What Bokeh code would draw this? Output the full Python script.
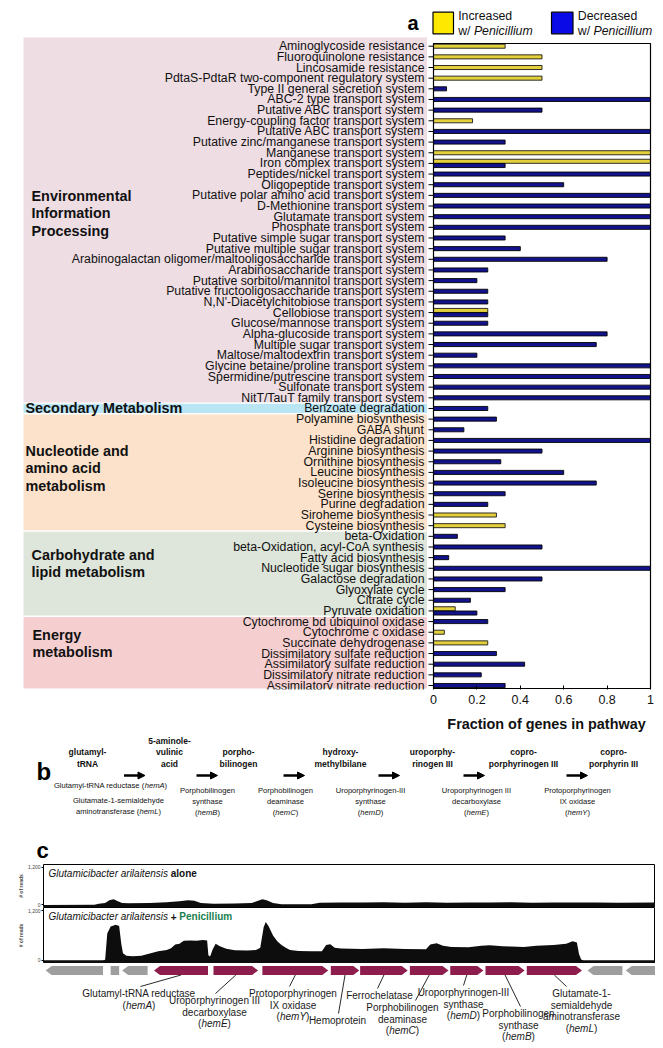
from bokeh.plotting import figure
from bokeh.layouts import column, row
from bokeh.models import (Range1d, FixedTicker, NumeralTickFormatter, ColumnDataSource,
                          Arrow, NormalHead)
from bokeh.core.properties import value
from bokeh.embed import file_html
from bokeh.resources import INLINE

FONT = "Liberation Sans"

# ---------------- panel a data ----------------
pathways = [
    "Aminoglycoside resistance", "Fluoroquinolone resistance", "Lincosamide resistance",
    "PdtaS-PdtaR two-component regulatory system", "Type II general secretion system",
    "ABC-2 type transport system", "Putative ABC transport system",
    "Energy-coupling factor transport system", "Putative ABC transport system",
    "Putative zinc/manganese transport system", "Manganese transport system",
    "Iron complex transport system", "Peptides/nickel transport system",
    "Oligopeptide transport system", "Putative polar amino acid transport system",
    "D-Methionine transport system", "Glutamate transport system", "Phosphate transport system",
    "Putative simple sugar transport system", "Putative multiple sugar transport system",
    "Arabinogalactan oligomer/maltooligosaccharide transport system",
    "Arabinosaccharide transport system", "Putative sorbitol/mannitol transport system",
    "Putative fructooligosaccharide transport system", "N,N'-Diacetylchitobiose transport system",
    "Cellobiose transport system", "Glucose/mannose transport system",
    "Alpha-glucoside transport system", "Multiple sugar transport system",
    "Maltose/maltodextrin transport system", "Glycine betaine/proline transport system",
    "Spermidine/putrescine transport system", "Sulfonate transport system",
    "NitT/TauT family transport system",
    "Benzoate degradation",
    "Polyamine biosynthesis", "GABA shunt", "Histidine degradation", "Arginine biosynthesis",
    "Ornithine biosynthesis", "Leucine biosynthesis", "Isoleucine biosynthesis",
    "Serine biosynthesis", "Purine degradation", "Siroheme biosynthesis", "Cysteine biosynthesis",
    "beta-Oxidation", "beta-Oxidation, acyl-CoA synthesis", "Fatty acid biosynthesis",
    "Nucleotide sugar biosynthesis", "Galactose degradation", "Glyoxylate cycle", "Citrate cycle",
    "Pyruvate oxidation",
    "Cytochrome bd ubiquinol oxidase", "Cytochrome c oxidase", "Succinate dehydrogenase",
    "Dissimilatory sulfate reduction", "Assimilatory sulfate reduction",
    "Dissimilatory nitrate reduction", "Assimilatory nitrate reduction",
]
increased = [0.33, 0.5, 0.5, 0.5, 0, 0, 0, 0.18, 0, 0,
             1.0, 1.0, 0, 0, 0, 0, 0, 0, 0, 0,
             0, 0, 0, 0, 0, 0.25, 0, 0, 0, 0,
             0, 0, 0, 0,
             0,
             0, 0, 0, 0, 0, 0, 0, 0, 0, 0.29, 0.33,
             0, 0, 0, 0, 0, 0, 0, 0.10,
             0, 0.05, 0.25, 0, 0, 0, 0]
decreased = [0, 0, 0, 0, 0.06, 1.0, 0.5, 0, 1.0, 0.33,
             0, 0.33, 1.0, 0.6, 1.0, 1.0, 1.0, 1.0, 0.33, 0.4,
             0.8, 0.25, 0.2, 0.25, 0.25, 0.25, 0.25, 0.8, 0.75, 0.2,
             1.0, 1.0, 1.0, 1.0,
             0.25,
             0.29, 0.14, 1.0, 0.5, 0.31, 0.6, 0.75, 0.33, 0.25, 0, 0,
             0.11, 0.5, 0.07, 1.0, 0.5, 0.33, 0.17, 0.2,
             0.25, 0, 0, 0.29, 0.42, 0.22, 0.33]
group_names = ["Environmental|Information|Processing", "Secondary Metabolism",
               "Nucleotide and|amino acid|metabolism", "Carbohydrate and|lipid metabolism",
               "Energy|metabolism"]
group_sizes = [34, 1, 11, 8, 7]
group_colors = ["#EEDDE3", "#B9E5F5", "#FCE2CB", "#DEE5DA", "#F5CFCF"]
x_ticks = [0, 0.2, 0.4, 0.6, 0.8, 1.0]
legend_labels = ["Increased", "Decreased"]

# ---------------- panel b data ----------------
compounds = ["glutamyl-|tRNA", "5-aminole-|vulinic|acid", "porpho-|bilinogen",
             "hydroxy-|methylbilane", "uroporphy-|rinogen III", "copro-|porphyrinogen III",
             "copro-|porphyrin III"]
enzymes = ["Glutamyl-tRNA reductase (*hemA*)", "Glutamate-1-semialdehyde|aminotransferase (*hemL*)",
           "Porphobilinogen|synthase|(*hemB*)", "Porphobilinogen|deaminase|(*hemC*)",
           "Uroporphyrinogen-III|synthase|(*hemD*)", "Uroporphyrinogen III|decarboxylase|(*hemE*)",
           "Protoporphyrinogen|IX oxidase|(*hemY*)"]

# ---------------- panel c data ----------------
GEN_LEN = 14400
cov_pos_alone = [0, 1200, 1300, 1450, 1550, 1650, 1750, 1850, 2000, 2500, 2900, 3200, 3400, 3550,
                 3700, 4000, 4500, 4900, 5000, 5150, 5250, 5400, 5600, 6000, 6300, 6500, 7000,
                 7500, 8000, 8500, 9000, 9500, 10000, 10500, 11000, 11500, 12000, 12500, 13000,
                 13500, 14400]
cov_alone = [0, 10, 40, 60, 150, 180, 120, 60, 55, 60, 85, 120, 150, 130,
             60, 40, 45, 60, 110, 180, 150, 60, 25, 20, 25, 70, 80,
             75, 85, 70, 85, 70, 80, 75, 85, 70, 80, 75, 80,
             70, 75]
cov_pos_pen = [0, 1400, 1450, 1500, 1580, 1700, 1780, 1830, 1870, 1950, 2100, 2300, 2500, 2700,
               2900, 3000, 3100, 3200, 3300, 3450, 3600, 3750, 3850, 3880, 3920, 3980, 4050,
               4150, 4300, 4500, 4800, 5000, 5100, 5180, 5230, 5300, 5400, 5500, 5600, 5700,
               5800, 6000, 6300, 6550, 6650, 6750, 6850, 7000, 7500, 8000, 8500, 9000, 9100,
               9250, 9400, 9600, 10000, 10300, 10500, 10800, 11000, 11300, 11600, 12000,
               12300, 12450, 12550, 12600, 12650, 12700, 14400]
cov_pen = [0, 0, 10, 650, 820, 860, 830, 400, 170, 110, 95, 110, 160, 220,
           250, 290, 380, 400, 470, 480, 470, 490, 480, 120, 90, 260, 400,
           340, 280, 240, 235, 245, 300, 800, 930, 820, 600, 460, 370, 300,
           250, 225, 215, 220, 370, 390, 300, 285, 275, 290, 270, 265, 380,
           410, 350, 320, 315, 350, 365, 340, 330, 320, 350, 370,
           400, 460, 430, 150, 20, 0, 0]
gene_start = [50, 1580, 1850, 2600, 4000, 5150, 6760, 7450, 8620, 9570, 10400, 11370, 12800, 13700]
gene_end = [1400, 1780, 2450, 3870, 5050, 6700, 7430, 8570, 9530, 10350, 11320, 12670, 13620, 14400]
gene_strand = [-1, 0, -1, -1, 1, 1, 1, 1, 1, 1, 1, 1, -1, -1]
gene_label = ["", "", "", "Glutamyl-tRNA reductase|(*hemA*)",
              "Uroporphyrinogen III|decarboxylase|(*hemE*)",
              "Protoporphyrinogen|IX oxidase|(*hemY*)", "Hemoprotein", "Ferrochelatase",
              "Porphobilinogen|deaminase|(*hemC*)", "Uroporphyrinogen-III|synthase|(*hemD*)",
              "Porphobilinogen|synthase|(*hemB*)",
              "Glutamate-1-|semialdehyde|aminotransferase|(*hemL*)", "", ""]

# ---------------- text metrics (Arial / Liberation Sans) ----------------
REG = dict(zip(" !\"#$%&'()*+,-./", [278, 278, 355, 556, 556, 889, 667, 191, 333, 333, 389, 584, 278, 333, 278, 278]))
REG.update({d: 556 for d in "0123456789"})
REG.update({":": 278, ";": 278})
REG.update(dict(zip("ABCDEFGHIJKLMNOPQRSTUVWXYZ", [667, 667, 722, 722, 667, 611, 778, 722, 278, 500, 667, 556, 833, 722, 778, 667, 778, 722, 667, 611, 722, 667, 944, 667, 667, 611])))
REG.update(dict(zip("abcdefghijklmnopqrstuvwxyz", [556, 556, 500, 556, 556, 278, 556, 556, 222, 222, 500, 222, 833, 556, 556, 556, 556, 333, 500, 278, 556, 500, 722, 500, 500, 500])))
BOLD = dict(REG)
BOLD.update(dict(zip("ABCDEFGHIJKLMNOPQRSTUVWXYZ", [722, 722, 722, 722, 667, 611, 778, 722, 278, 556, 722, 611, 833, 722, 778, 667, 778, 722, 667, 611, 722, 667, 944, 667, 667, 611])))
BOLD.update(dict(zip("abcdefghijklmnopqrstuvwxyz", [556, 611, 556, 611, 556, 333, 611, 611, 278, 278, 556, 278, 889, 611, 611, 611, 611, 389, 556, 333, 611, 556, 778, 556, 556, 500])))


def tw(s, size, style):
    tbl = BOLD if "bold" in style else REG
    return sum(tbl.get(ch, 556) for ch in s) / 1000.0 * size


class TextLayer:
    def __init__(self):
        self.groups = {}

    def add(self, x, y, text, size, style="normal", color="black", align="left", baseline="middle"):
        key = (size, style, color, align, baseline)
        g = self.groups.setdefault(key, {"x": [], "y": [], "text": []})
        g["x"].append(x)
        g["y"].append(y)
        g["text"].append(text)

    def draw(self, fig, **kw):
        for (size, style, color, align, baseline), g in self.groups.items():
            fig.text(x="x", y="y", text="text", source=ColumnDataSource(g),
                     text_font=value(FONT), text_font_size=f"{size}px", text_font_style=style,
                     text_color=color, text_align=align, text_baseline=baseline, **kw)


def rich(layer, x, y, segs, size, align="center", conv=None):
    conv = conv or (lambda v: v)
    total = sum(tw(t, size, st) for t, st, c in segs)
    cur = {"center": x - total / 2.0, "left": x, "right": x - total}[align]
    for t, st, c in segs:
        lead = len(t) - len(t.lstrip(" "))
        core = t.strip(" ")
        if core:
            layer.add(conv(cur + tw(" " * lead, size, st)), y, core, size, st, c, "left")
        cur += tw(t, size, st)


def markup(line, base="normal", color="black"):
    return [(p, "italic" if i % 2 else base, color) for i, p in enumerate(line.split("*")) if p]


def clean(fig):
    fig.grid.visible = False
    fig.outline_line_color = None
    fig.background_fill_color = "white"
    fig.border_fill_color = "white"


# =============== panel a ===============
SLOT = 10.655
Y0 = 45.7          # page y of the first category centre
FR_TOP, FR_BOT = 0, 689


def iy(py):
    return (py - Y0) / SLOT


n = len(pathways)
yr = Range1d(start=iy(FR_BOT), end=iy(FR_TOP))
A_H = 712

left = figure(width=419, height=A_H, x_range=Range1d(8, 427), y_range=yr,
              output_backend="svg", toolbar_location=None,
              x_axis_location=None, y_axis_location=None,
              min_border_left=0, min_border_right=0, min_border_top=0, min_border_bottom=A_H - FR_BOT)
clean(left)

bl, br, bt, bb, bc = [], [], [], [], []
start = 0
gap = 0.7 / SLOT
for gi, (sz, col) in enumerate(zip(group_sizes, group_colors)):
    s, e = start, start + sz - 1
    top = iy(37) if gi == 0 else s - 0.5 + gap
    bot = iy(688) if gi == len(group_sizes) - 1 else e + 0.5 - gap
    bl.append(23); br.append(427); bt.append(top); bb.append(bot); bc.append(col)
    start += sz
left.quad(left=bl, right=br, top=bt, bottom=bb, fill_color=bc, line_color=None)

lt = TextLayer()
for i, name in enumerate(pathways):
    lt.add(424, i, name, 12.3, "normal", "#111111", "right")
group_x = [31, 25, 25, 31, 32]
group_y = [195, 407, 450, 554, 634]
for name, gx, gy in zip(group_names, group_x, group_y):
    for k, ln in enumerate(name.split("|")):
        lt.add(gx, iy(gy + k * 17.5), ln, 14.4, "bold", "#111111", "left")
lt.add(407, iy(22), "a", 20, "bold", "black", "left", "alphabetic")
lt.draw(left)

right = figure(width=228, height=A_H, x_range=Range1d(-6 / 217, 1 + 2 / 217), y_range=yr,
               output_backend="svg", toolbar_location=None, y_axis_location=None,
               min_border_left=0, min_border_right=3, min_border_top=0, min_border_bottom=A_H - FR_BOT)
clean(right)
right.extra_x_ranges = {"px": Range1d(427, 652)}
right.extra_y_ranges = {"px": Range1d(FR_BOT, FR_TOP)}

right.segment(x0=[-5 / 217] * n, x1=[0] * n, y0=list(range(n)), y1=list(range(n)),
              line_color="black", line_width=1)

both = [a > 0 and b > 0 for a, b in zip(increased, decreased)]
inc_y = [i - 0.2 if both[i] else i for i in range(n) if increased[i] > 0]
inc_v = [v for v in increased if v > 0]
dec_y = [i + 0.2 if both[i] else i for i in range(n) if decreased[i] > 0]
dec_v = [v for v in decreased if v > 0]
right.hbar(y=inc_y, left=0, right=inc_v, height=0.38, fill_color="#E3D03A",
           line_color="#1a1a1a", line_width=0.9)
right.hbar(y=dec_y, left=0, right=dec_v, height=0.38, fill_color="#12128C",
           line_color="#050505", line_width=0.9)
right.quad(left=[0], right=[1], top=[iy(43)], bottom=[iy(688)], fill_color=None,
           line_color="black", line_width=1.2)

xa = right.xaxis[0]
xa.ticker = FixedTicker(ticks=x_ticks)
xa.formatter = NumeralTickFormatter(format="0.[0]")
xa.axis_line_color = None
xa.major_tick_in = 4
xa.major_tick_out = 0
xa.major_tick_line_color = "black"
xa.minor_tick_line_color = None
xa.major_label_text_font = FONT
xa.major_label_text_font_size = "12.5px"
xa.major_label_text_color = "#111111"
xa.major_label_standoff = 5

right.quad(left=[432.5, 551], right=[453, 572.5], top=[11.7, 11.7], bottom=[33.3, 33.3],
           fill_color=["#FFE800", "#0A0AE6"], line_color="black", line_width=1.2,
           x_range_name="px", y_range_name="px")
rt = TextLayer()
for lx, lab in zip([457.7, 577.3], legend_labels):
    rt.add(lx, 15.5, lab, 12.3, "normal", "#111111", "left")
    rich(rt, lx, 30.5, [("w/ ", "normal", "#111111"), ("Penicillium", "italic", "#111111")], 12.3, "left")
rt.draw(right, x_range_name="px", y_range_name="px")

panel_a = row(left, right, spacing=0)

# =============== panel b ===============
PB_TOP, PB_BOT = 712, 864
pb = figure(width=647, height=PB_BOT - PB_TOP, x_range=Range1d(8, 655),
            y_range=Range1d(PB_BOT, PB_TOP), output_backend="svg", toolbar_location=None,
            x_axis_location=None, y_axis_location=None,
            min_border_left=0, min_border_right=0, min_border_top=0, min_border_bottom=0)
clean(pb)
bt_ = TextLayer()
bt_.add(546, 723, "Fraction of genes in pathway", 14.4, "bold", "#111111", "center")
bt_.add(36, 771, "b", 24, "bold", "black", "left", "alphabetic")
bt_.add(36, 850, "c", 22, "bold", "black", "left", "alphabetic")

compound_x = [87, 169, 238, 340, 432, 523, 613]
for cname, cx in zip(compounds, compound_x):
    lines = cname.split("|")
    for k, ln in enumerate(lines):
        bt_.add(cx, 763 - (len(lines) - 1 - k) * 11.5, ln, 8.5, "bold", "#111111", "center")

enzyme_x = [110, 118, 207, 285, 370, 476, 577]
enzyme_y = [785, 800, 790, 790, 790, 790, 790]
for ename, ex, ey in zip(enzymes, enzyme_x, enzyme_y):
    for k, ln in enumerate(ename.split("|")):
        rich(bt_, ex, ey + k * 11, markup(ln, color="#111111"), 7.6, "center")
bt_.draw(pb)

arrow_cx = [134, 206.5, 293.5, 388.5, 473.5, 576.5]
asrc = ColumnDataSource(dict(x0=[c - 10.5 for c in arrow_cx], x1=[c + 10.5 for c in arrow_cx],
                             y=[775] * len(arrow_cx)))
pb.add_layout(Arrow(end=NormalHead(size=7, fill_color="black", line_color="black"),
                    x_start="x0", y_start="y", x_end="x1", y_end="y", source=asrc,
                    line_width=2.5, line_color="black"))

# =============== panel c ===============
C_X0, C_W = 43, 612
Y_LO, Y_HI = -80, 1280


def g_of(px):
    return (px - C_X0) / C_W * GEN_LEN


def track(top, bot, pos, reads, segs):
    h = bot - top
    f = figure(width=647, height=h, x_range=Range1d(0, GEN_LEN), y_range=Range1d(Y_LO, Y_HI),
               output_backend="svg", toolbar_location=None, x_axis_location=None,
               min_border_left=35, min_border_right=0, min_border_top=0, min_border_bottom=0)
    f.grid.visible = False
    f.background_fill_color = "white"
    f.border_fill_color = "white"
    f.outline_line_color = "black"
    f.outline_line_width = 1
    f.varea(x=pos, y1=[Y_LO] * len(pos), y2=reads, fill_color="#0d0d0d")
    ax = f.yaxis[0]
    ax.ticker = FixedTicker(ticks=[0, 1200])
    ax.formatter = NumeralTickFormatter(format="0,0")
    ax.major_label_text_font = FONT
    ax.major_label_text_font_size = "5px"
    ax.major_label_standoff = 1
    ax.major_tick_out = 2
    ax.major_tick_in = 0
    ax.minor_tick_line_color = None
    ax.axis_line_color = None
    ax.axis_label = "# of reads"
    ax.axis_label_text_font = FONT
    ax.axis_label_text_font_size = "5px"
    ax.axis_label_text_font_style = "bold"
    ax.axis_label_standoff = 1
    tl = TextLayer()
    rich(tl, 48, Y_HI - 9 * (Y_HI - Y_LO) / h, segs, 10, "left", conv=g_of)
    tl.draw(f)
    return f


t1 = track(864, 907, cov_pos_alone, cov_alone,
           [("Glutamicibacter arilaitensis ", "italic", "#111111"), ("alone", "bold", "#111111")])
t2 = track(907, 963, cov_pos_pen, cov_pen,
           [("Glutamicibacter arilaitensis ", "italic", "#111111"), ("+ ", "bold", "#111111"),
            ("Penicillium", "bold", "#17804E")])

G_TOP, G_BOT = 963, 1044
gf = figure(width=647, height=G_BOT - G_TOP, x_range=Range1d(0, GEN_LEN),
            y_range=Range1d(G_BOT, G_TOP), output_backend="svg", toolbar_location=None,
            x_axis_location=None, y_axis_location=None,
            min_border_left=35, min_border_right=0, min_border_top=0, min_border_bottom=0)
clean(gf)
GY, GH, TIP = 970, 4.5, 141
xs, ys, cols = [], [], []
for s, e, st, lab in zip(gene_start, gene_end, gene_strand, gene_label):
    tip = min(TIP, (e - s) * 0.5)
    if st == 1:
        xs.append([s, e - tip, e, e - tip, s]); ys.append([GY - GH, GY - GH, GY, GY + GH, GY + GH])
    elif st == -1:
        xs.append([s, s + tip, e, e, s + tip]); ys.append([GY, GY - GH, GY - GH, GY + GH, GY + GH])
    else:
        xs.append([s, e, e, s]); ys.append([GY - GH, GY - GH, GY + GH, GY + GH])
    cols.append("#8C1D4D" if lab else "#9E9E9E")
gf.patches(xs=xs, ys=ys, fill_color=cols, line_color=None)

label_x = [None, None, None, 138.5, 214, 292.5, 337, 379, 402, 463, 518, 581, None, None]
label_y = [None, None, None, 993, 1000, 993, 1020, 995, 1007, 992, 1013, 993, None, None]
leader_x = [None, None, None, 140, 215, 289, 338, 377, 415, 463, 520, 566, None, None]
gt = TextLayer()
lx0, lx1, ly0, ly1 = [], [], [], []
for s, e, lab, lx, ly, ldx in zip(gene_start, gene_end, gene_label, label_x, label_y, leader_x):
    if not lab:
        continue
    for k, ln in enumerate(lab.split("|")):
        rich(gt, lx, ly + k * 11.5, markup(ln, color="#1a1a1a"), 10, "center", conv=g_of)
    lx0.append((s + e) / 2.0); ly0.append(GY + GH)
    lx1.append(g_of(ldx)); ly1.append(ly - 7)
gf.segment(x0=lx0, y0=ly0, x1=lx1, y1=ly1, line_color="#111111", line_width=0.9)
gt.draw(gf)

panel_c = column(t1, t2, gf, spacing=0)
layout = column(panel_a, pb, panel_c, spacing=0, margin=(0, 0, 0, 8))
open("out.html", "w").write(file_html(layout, INLINE))
